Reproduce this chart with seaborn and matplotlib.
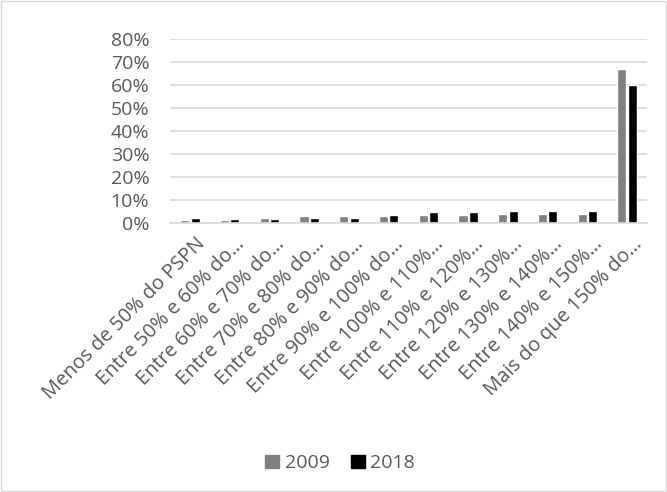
import matplotlib
matplotlib.use("Agg")
import matplotlib.pyplot as plt
import matplotlib.transforms as mtransforms
import seaborn as sns
import pandas as pd
from matplotlib.ticker import PercentFormatter
from matplotlib.patches import Rectangle

categories = [
    "Menos de 50% do PSPN",
    "Entre 50% e 60% do…",
    "Entre 60% e 70% do…",
    "Entre 70% e 80% do…",
    "Entre 80% e 90% do…",
    "Entre 90% e 100% do…",
    "Entre 100% e 110%…",
    "Entre 110% e 120%…",
    "Entre 120% e 130%…",
    "Entre 130% e 140%…",
    "Entre 140% e 150%…",
    "Mais do que 150% do…",
]
values_2009 = [0.014, 0.014, 0.022, 0.028, 0.028, 0.032, 0.035, 0.035, 0.039, 0.038, 0.039, 0.670]
values_2018 = [0.023, 0.017, 0.017, 0.022, 0.023, 0.036, 0.046, 0.046, 0.051, 0.053, 0.053, 0.601]
series = ["2009", "2018"]
yticks = [0, 0.1, 0.2, 0.3, 0.4, 0.5, 0.6, 0.7, 0.8]

df = pd.DataFrame({
    "cat": categories * 2,
    "val": values_2009 + values_2018,
    "ano": [series[0]] * len(categories) + [series[1]] * len(categories),
})

sns.set_theme(style="white")
plt.rcParams["font.family"] = ["Open Sans", "DejaVu Sans"]

fig = plt.figure(figsize=(6.67, 4.92), dpi=100)
ax = fig.add_axes([0.255, 0.547, 0.715, 0.374])

sns.barplot(data=df, x="cat", y="val", hue="ano", order=categories,
            hue_order=series, palette=["#808080", "#000000"],
            width=0.52, gap=0.12, ax=ax, saturation=1, legend=True)

ax.set_ylim(0, 0.8)
ax.set_yticks(yticks)
ax.yaxis.set_major_formatter(PercentFormatter(1.0, decimals=0))
ax.grid(axis="y", color="#d9d9d9", linewidth=1.2)
ax.set_axisbelow(True)
for s in ["top", "right", "left"]:
    ax.spines[s].set_visible(False)
ax.spines["bottom"].set_color("#d9d9d9")
ax.spines["bottom"].set_linewidth(1.2)
ax.set_xlabel("")
ax.set_ylabel("")
ax.tick_params(axis="y", labelsize=14, labelcolor="#595959", length=0, pad=15)
ax.tick_params(axis="x", labelsize=14.3, labelcolor="#595959", length=0, pad=8)
ax.set_xticks(range(len(categories)))
ax.set_xticklabels(categories, rotation=45, ha="right", rotation_mode="anchor")
ax.set_xlim(-0.5, len(categories) - 0.5)
offset = mtransforms.ScaledTranslation(5 / 100, 0, fig.dpi_scale_trans)
for lbl in ax.get_xticklabels():
    lbl.set_transform(lbl.get_transform() + offset)

ax.legend_.remove()
handles = [Rectangle((0, 0), 1, 1, color="#808080"), Rectangle((0, 0), 1, 1, color="#000000")]
fig.legend(handles, series, loc="center", bbox_to_anchor=(0.51, 0.058), ncol=2,
           frameon=False, fontsize=14, labelcolor="#595959", handlelength=0.7,
           handleheight=0.7, handletextpad=0.3, columnspacing=1.1)

fig.patches.append(Rectangle((0.0015, 0.002), 0.997, 0.996, transform=fig.transFigure,
                             fill=False, edgecolor="#d9d9d9", linewidth=1))

fig.savefig("out.png", dpi=100)
